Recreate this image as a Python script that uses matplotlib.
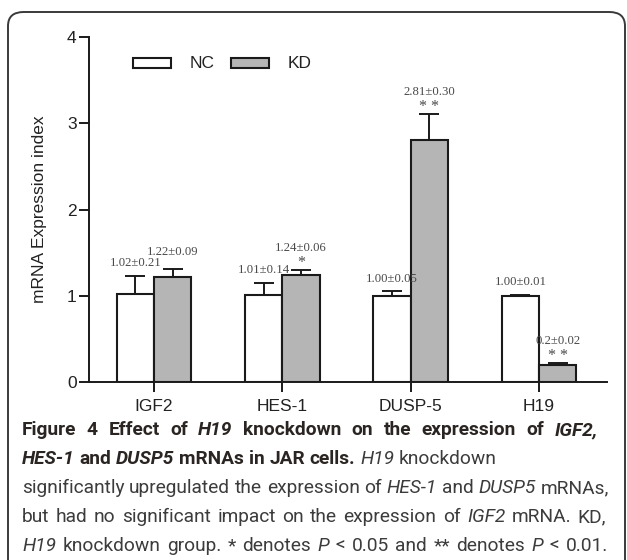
import matplotlib
matplotlib.use("Agg")
import matplotlib.pyplot as plt
import numpy as np
from matplotlib.patches import FancyBboxPatch, Rectangle

categories = ["IGF2", "HES-1", "DUSP-5", "H19"]
nc_mean = [1.02, 1.01, 1.00, 1.00]
nc_err = [0.21, 0.14, 0.05, 0.01]
kd_mean = [1.22, 1.24, 2.81, 0.20]
kd_err = [0.09, 0.06, 0.30, 0.02]
nc_labels = ["1.02±0.21", "1.01±0.14", "1.00±0.05", "1.00±0.01"]
kd_labels = ["1.22±0.09", "1.24±0.06", "2.81±0.30", "0.2±0.02"]
kd_stars = ["", "*", "* *", "* *"]
yticks = [0, 1, 2, 3, 4]
series_names = ["NC", "KD"]

W, H = 627, 560
fig = plt.figure(figsize=(W / 100, H / 100), dpi=100)

# rounded frame
frame = FancyBboxPatch((8 / W, 1 - 600 / H), (625 - 8) / W, (600 - 12) / H,
                       boxstyle="round,pad=0,rounding_size=0.025",
                       transform=fig.transFigure, fill=False,
                       edgecolor="#3a3a3a", linewidth=1.4, clip_on=False)
fig.patches.append(frame)

ax = fig.add_axes([89 / W, 1 - 382 / H, (607 - 89) / W, (382 - 37) / H])
x = np.arange(len(categories))
bw = 0.29
ax.bar(x - bw / 2, nc_mean, bw, color="white", edgecolor="#1a1a1a", linewidth=1.5, zorder=2)
ax.bar(x + bw / 2, kd_mean, bw, color="#b5b5b5", edgecolor="#1a1a1a", linewidth=1.5, zorder=2)
ax.errorbar(x - bw / 2, nc_mean, yerr=[np.zeros(4), nc_err], fmt="none",
            ecolor="#1a1a1a", elinewidth=1.4, capsize=7, capthick=1.4, zorder=1)
ax.errorbar(x + bw / 2, kd_mean, yerr=[np.zeros(4), kd_err], fmt="none",
            ecolor="#1a1a1a", elinewidth=1.4, capsize=7, capthick=1.4, zorder=1)

ann_kw = dict(ha="center", va="center", fontsize=9.2, color="#4a4a4a",
              family="Liberation Serif", textcoords="offset points", zorder=5)
for i in range(len(categories)):
    ax.annotate(nc_labels[i], (x[i] - bw / 2, nc_mean[i] + nc_err[i]),
                xytext=(0, 9), **ann_kw)
    if kd_stars[i]:
        ax.annotate(kd_stars[i], (x[i] + bw / 2, kd_mean[i] + kd_err[i]),
                    xytext=(0, 5), ha="center", va="center", fontsize=11.5,
                    color="#4a4a4a", family="Liberation Serif",
                    textcoords="offset points")
        ax.annotate(kd_labels[i], (x[i] + bw / 2, kd_mean[i] + kd_err[i]),
                    xytext=(0, 15.5), **ann_kw)
    else:
        ax.annotate(kd_labels[i], (x[i] + bw / 2, kd_mean[i] + kd_err[i]),
                    xytext=(0, 12), **ann_kw)

ax.set_ylim(0, 4)
ax.set_xlim(-0.507, 3.53)
ax.set_yticks(yticks)
ax.set_xticks(x)
ax.set_xticklabels(categories)
for s in ["top", "right"]:
    ax.spines[s].set_visible(False)
for s in ["left", "bottom"]:
    ax.spines[s].set_linewidth(1.4)
    ax.spines[s].set_color("#1a1a1a")
ax.tick_params(axis="both", length=7, width=1.4, color="#1a1a1a",
               labelsize=12.5, labelcolor="#222222")
ax.tick_params(axis="y", pad=2)
ax.tick_params(axis="x", pad=5)
for lab in ax.get_xticklabels() + ax.get_yticklabels():
    lab.set_family("Liberation Sans")
ax.set_ylabel("mRNA Expression index", fontsize=12.5, family="Liberation Sans",
              color="#222222", labelpad=14)

# legend
leg_kw = dict(transform=fig.transFigure, linewidth=1.5, edgecolor="#1a1a1a", clip_on=False)
fig.patches.append(Rectangle((133 / W, 1 - 67.5 / H), 38 / W, 9 / H, facecolor="white", **leg_kw))
fig.patches.append(Rectangle((231 / W, 1 - 67.5 / H), 38 / W, 9 / H, facecolor="#b5b5b5", **leg_kw))
fig.text(190 / W, 1 - 63 / H, series_names[0], fontsize=12.5, family="Liberation Sans",
         va="center", ha="left", color="#222222")
fig.text(288 / W, 1 - 63 / H, series_names[1], fontsize=12.5, family="Liberation Sans",
         va="center", ha="left", color="#222222")

# caption with mixed styles
bold_c = "#2a2522"
reg_c = "#3c3c3c"
cap_font = "Roboto"
lines = [
    [("Figure 4 Effect of ", "bold", "normal", bold_c), ("H19", "bold", "italic", bold_c),
     (" knockdown on the expression of ", "bold", "normal", bold_c), ("IGF2,", "bold", "italic", bold_c)],
    [("HES-1", "bold", "italic", bold_c), (" and ", "bold", "normal", bold_c),
     ("DUSP5", "bold", "italic", bold_c), (" mRNAs in JAR cells. ", "bold", "normal", bold_c),
     ("H19", "normal", "italic", reg_c), (" knockdown", "normal", "normal", reg_c)],
    [("significantly upregulated the expression of ", "normal", "normal", reg_c),
     ("HES-1", "normal", "italic", reg_c), (" and ", "normal", "normal", reg_c),
     ("DUSP5", "normal", "italic", reg_c), (" mRNAs,", "normal", "normal", reg_c)],
    [("but had no significant impact on the expression of ", "normal", "normal", reg_c),
     ("IGF2", "normal", "italic", reg_c), (" mRNA. KD,", "normal", "normal", reg_c)],
    [("H19", "normal", "italic", reg_c), (" knockdown group. * denotes ", "normal", "normal", reg_c),
     ("P", "normal", "italic", reg_c), (" < 0.05 and ** denotes ", "normal", "normal", reg_c),
     ("P", "normal", "italic", reg_c), (" < 0.01.", "normal", "normal", reg_c)],
]
right_edge = [598.0, None, 608.0, 606.0, 608.0]
line_y = [430, 459, 488, 517, 546]
x_left = 22.0

fig.canvas.draw()
renderer = fig.canvas.get_renderer()


def tw(txt, size, wt, st):
    t = fig.text(0, 0, txt, fontsize=size, family=cap_font, weight=wt, style=st)
    w = t.get_window_extent(renderer=renderer).width
    t.remove()
    return w


def words_of(runs):
    out = []
    for txt, wt, st, col in runs:
        for wd in txt.split(" "):
            if wd:
                out.append((wd, wt, st, col))
    return out


def natural_width(runs, size):
    ws = words_of(runs)
    sp = tw("a a", size, "normal", "normal") - tw("aa", size, "normal", "normal")
    return sum(tw(w, size, wt, st) for w, wt, st, c in ws) + sp * (len(ws) - 1)


base = 14.0
cap_size = base * 478.0 / natural_width(lines[1], base)
space_w = tw("a a", cap_size, "normal", "normal") - tw("aa", cap_size, "normal", "normal")

for runs, yp, xr in zip(lines, line_y, right_edge):
    ws = words_of(runs)
    widths = [tw(w, cap_size, wt, st) for w, wt, st, c in ws]
    gap = space_w
    if xr is not None and len(ws) > 1:
        gap = max(space_w, (xr - x_left - sum(widths)) / (len(ws) - 1))
    xp = x_left
    for (w, wt, st, col), wd in zip(ws, widths):
        fig.text(xp / W, 1 - yp / H, w, fontsize=cap_size, family=cap_font,
                 weight=wt, style=st, color=col, va="center", ha="left")
        xp += wd + gap

fig.savefig("out.png", dpi=100)
